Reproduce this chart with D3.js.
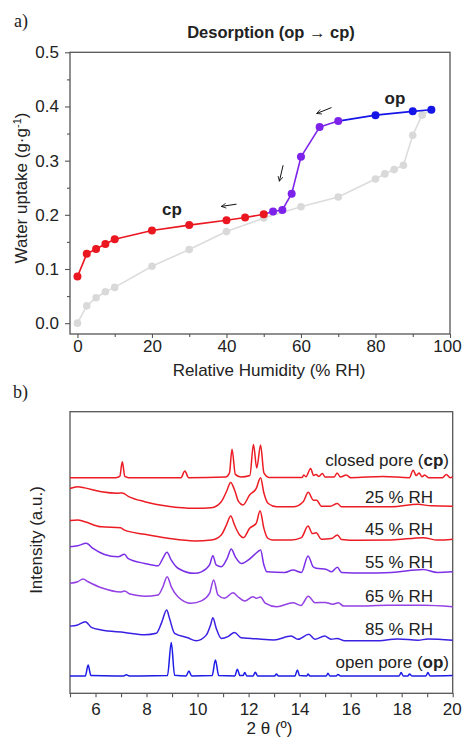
<!DOCTYPE html>
<html>
<head>
<meta charset="utf-8">
<script src="https://cdn.jsdelivr.net/npm/d3@7/dist/d3.min.js"></script>
<style>
  body { margin: 0; background: #fff; }
  svg text { font-family: "Liberation Sans", Arial, sans-serif; fill: #222; }
</style>
</head>
<body>
<div id="chart"></div>
<script>
// ---------- panel a) water sorption isotherm ----------
var adsorbRH = [0, 2.5, 5, 7.5, 10, 20, 30, 40, 50, 60, 70, 80, 82.5, 85, 87.5, 90, 92.5, 95];
var adsorbUptake = [0.0, 0.032, 0.047, 0.058, 0.066, 0.105, 0.136, 0.169, 0.194, 0.215, 0.233, 0.266, 0.2755, 0.2835, 0.2915, 0.347, 0.384, 0.394];

var desorbRH = [95, 90, 80, 70, 65, 60, 57.5, 55, 52.5, 50, 45, 40, 30, 20, 10, 7.5, 5, 2.5, 0];
var desorbUptake = [0.394, 0.391, 0.384, 0.373, 0.362, 0.307, 0.239, 0.209, 0.206, 0.201, 0.195, 0.190, 0.181, 0.171, 0.155, 0.146, 0.137, 0.128, 0.086];
var desorbPhase = ['op', 'op', 'op', 'mix', 'mix', 'mix', 'mix', 'mix', 'mix', 'cp', 'cp', 'cp', 'cp', 'cp', 'cp', 'cp', 'cp', 'cp', 'cp'];

var rhTicks = [0, 20, 40, 60, 80, 100];
var uptakeTicks = [0.0, 0.1, 0.2, 0.3, 0.4, 0.5];

// ---------- panel b) PXRD patterns, [2theta, stacked intensity] ----------
var xrdCP = [[5.0,71.9],[6.8,71.9],[6.95,72.3],[7.05,77.2],[7.15,72.3],[7.3,71.9],[9.35,71.9],[9.5,74.1],[9.65,71.9],
  [11.1,72.1],[11.25,73.5],[11.35,81.4],[11.48,73.0],[11.7,72.1],[12.05,72.6],[12.19,83.0],[12.32,75.1],[12.47,82.8],
  [12.6,73.5],[12.8,72.0],[14.1,72.0],[14.16,72.8],[14.25,72.2],[14.43,75.0],[14.55,72.6],[14.65,73.0],[14.75,72.3],
  [14.89,73.3],[15.0,72.1],[15.35,72.1],[15.47,73.5],[15.6,72.1],[15.83,72.8],[16.0,71.9],[17.27,72.3],[18.3,71.9],
  [18.45,74.4],[18.57,72.6],[18.68,73.5],[18.8,72.2],[18.9,72.8],[19.05,71.9],[19.6,71.9],[19.75,73.0],[19.9,71.9],[20.0,72.1]];
var xrd25 = [[5.0,68.3],[5.3,68.9],[5.58,68.5],[6.23,67.2],[6.88,66.7],[7.05,66.8],[7.3,65.6],[7.93,63.9],[8.84,62.4],
  [9.89,61.7],[10.54,61.9],[10.93,63.9],[11.13,67.2],[11.3,70.3],[11.45,67.8],[11.61,63.9],[11.78,62.8],[12.04,66.1],
  [12.3,68.3],[12.47,71.9],[12.6,66.8],[12.77,63.3],[13.1,62.2],[13.75,62.2],[14.14,63.9],[14.34,67.0],[14.54,64.4],
  [14.67,64.4],[14.85,62.4],[15.2,62.4],[15.48,63.3],[15.64,62.2],[16.29,62.2],[17.6,62.2],[18.64,63.0],[19.16,62.5],[20.0,62.4]];
var xrd45 = [[5.0,57.6],[5.3,57.8],[5.58,57.2],[6.23,55.5],[6.98,55.2],[7.14,54.4],[7.93,53.0],[8.84,51.7],[9.89,50.8],
  [10.54,51.1],[10.93,52.8],[11.13,56.1],[11.3,59.1],[11.45,56.1],[11.65,52.8],[11.8,51.9],[12.04,55.0],[12.3,56.7],
  [12.45,60.9],[12.6,55.0],[12.75,51.7],[12.95,51.1],[13.68,51.1],[14.07,51.9],[14.33,55.8],[14.5,53.3],[14.65,53.5],
  [14.85,51.4],[15.25,51.6],[15.48,52.8],[15.64,51.3],[16.29,51.0],[17.6,51.1],[18.84,51.9],[19.4,51.1],[20.0,51.4]];
var xrd55 = [[5.0,48.9],[5.3,49.2],[5.64,50.0],[5.9,48.3],[6.35,46.3],[6.88,45.5],[7.14,46.4],[7.27,45.0],[7.93,43.3],
  [8.45,42.5],[8.64,45.0],[8.8,47.0],[8.97,44.4],[9.23,41.7],[9.89,40.0],[10.15,40.5],[10.47,42.8],[10.6,45.9],
  [10.73,42.8],[10.93,42.2],[11.16,45.0],[11.32,48.1],[11.48,45.5],[11.72,43.3],[11.98,44.4],[12.24,46.3],[12.47,47.8],
  [12.6,42.8],[12.72,40.5],[13.42,40.3],[13.74,41.1],[14.07,40.3],[14.33,45.8],[14.53,42.2],[14.65,41.7],[15.05,41.3],
  [15.25,40.5],[15.48,42.0],[15.64,40.3],[16.55,40.1],[17.6,40.3],[18.84,41.3],[19.4,40.3],[20.0,40.5]];
var xrd65 = [[5.0,36.7],[5.3,37.2],[5.51,38.1],[5.71,37.2],[6.23,35.2],[7.0,33.8],[7.14,34.1],[7.35,33.1],[7.93,32.4],
  [8.45,32.8],[8.64,35.5],[8.81,38.9],[8.97,35.5],[9.23,32.2],[9.75,30.0],[10.15,30.8],[10.47,33.3],[10.63,37.8],
  [10.8,32.8],[11.06,31.7],[11.39,33.5],[11.58,32.2],[11.85,30.8],[12.17,32.2],[12.3,31.7],[12.47,32.1],[12.65,30.1],
  [13.1,28.9],[13.74,30.2],[14.05,29.3],[14.34,32.4],[14.6,30.2],[15.0,30.3],[15.3,29.7],[15.52,30.2],[15.72,29.1],
  [16.65,29.1],[17.43,29.4],[18.86,29.4],[20.0,28.9]];
var xrd85 = [[5.0,22.4],[5.3,22.8],[5.6,23.9],[5.84,22.0],[6.23,21.1],[7.14,20.3],[7.93,19.5],[8.38,20.0],[8.58,23.3],
  [8.79,27.8],[8.9,25.0],[9.1,20.0],[9.62,18.5],[9.95,17.5],[10.34,19.4],[10.51,22.8],[10.6,25.2],[10.73,21.7],
  [10.93,18.3],[11.19,18.9],[11.45,20.3],[11.71,18.5],[12.1,18.3],[12.5,18.0],[13.0,17.8],[13.67,19.1],[13.93,18.0],
  [14.36,19.7],[14.6,18.0],[14.98,19.1],[15.23,18.0],[15.47,18.3],[15.77,17.5],[16.95,17.5],[17.86,18.1],[18.64,17.7],
  [19.03,18.1],[20.0,17.7]];
var xrdOP = [[5.0,5.8],[5.6,5.8],[5.71,9.4],[5.82,5.9],[7.1,5.8],[7.21,6.2],[7.32,5.8],[8.82,5.9],[8.97,16.9],[9.1,6.0],
  [9.55,5.8],[9.66,7.4],[9.77,5.8],[10.57,5.9],[10.7,11.1],[10.83,5.9],[11.46,5.8],[11.56,8.0],[11.66,5.9],[11.78,5.9],
  [11.85,6.9],[11.93,5.8],[12.18,5.8],[12.26,7.0],[12.36,5.8],[13.02,5.8],[13.09,6.4],[13.17,5.8],[13.82,5.8],[13.91,7.8],
  [14.0,5.9],[14.28,5.8],[14.33,6.4],[14.4,5.8],[15.05,5.8],[15.11,6.7],[15.18,5.8],[15.44,5.8],[15.5,6.3],[15.6,5.8],
  [17.9,5.8],[17.98,6.9],[18.06,5.8],[18.24,5.8],[18.31,6.4],[18.4,5.8],[18.95,5.8],[19.03,6.9],[19.11,5.8],[20.0,5.9]];

var xrdSeries = [xrdCP, xrd25, xrd45, xrd55, xrd65, xrd85, xrdOP];
var xrdColors = ['#ec1c24', '#ec1c24', '#ec1c24', '#7b2fe6', '#9340e4', '#3a20e2', '#1c1ce6'];
var thetaTicks = [6, 8, 10, 12, 14, 16, 18, 20];

var phaseColor = { op: '#1515e8', mix: '#7d22ea', cp: '#ea1620' };

var width = 463, height = 738;

var svg = d3.select('#chart').append('svg')
  .attr('width', width)
  .attr('height', height);

svg.append('rect').attr('width', width).attr('height', height).attr('fill', '#fff');

///////////////////////////////////////////////////////////////////////////
//////////////////////////////// panel a ////////////////////////////////
///////////////////////////////////////////////////////////////////////////

var a = { left: 70, right: 450, top: 52.3, bottom: 334 };

var xA = d3.scaleLinear().domain([-2, 100]).range([a.left, a.right]);
var yA = d3.scaleLinear().domain([-0.02, 0.5]).range([a.bottom, a.top]);

// axes (major + minor ticks, outward)
svg.append('g')
  .attr('transform', 'translate(0,' + a.bottom + ')')
  .call(d3.axisBottom(xA).tickValues(d3.range(10, 100, 20)).tickSize(3).tickFormat(''))
  .call(function(g) { g.select('.domain').remove(); });
var xAxisA = svg.append('g')
  .attr('class', 'axis')
  .attr('transform', 'translate(0,' + a.bottom + ')')
  .call(d3.axisBottom(xA).tickValues(rhTicks).tickSize(4).tickPadding(2).tickFormat(d3.format('d')))
  .call(function(g) { g.select('.domain').remove(); });
// last label sits a little inside like in the original
xAxisA.selectAll('.tick text').filter(function(d) { return d === 100; }).attr('dx', -3);

svg.append('g')
  .attr('transform', 'translate(' + a.left + ',0)')
  .call(d3.axisLeft(yA).tickValues(d3.range(0.05, 0.5, 0.1)).tickSize(3).tickFormat(''))
  .call(function(g) { g.select('.domain').remove(); });
svg.append('g')
  .attr('class', 'axis')
  .attr('transform', 'translate(' + a.left + ',0)')
  .call(d3.axisLeft(yA).tickValues(uptakeTicks).tickSize(5).tickPadding(6).tickFormat(d3.format('.1f')))
  .call(function(g) { g.select('.domain').remove(); });

svg.append('rect')
  .attr('x', a.left).attr('y', a.top)
  .attr('width', a.right - a.left).attr('height', a.bottom - a.top)
  .attr('fill', 'none').attr('stroke', '#555').attr('stroke-width', 1.3);

// adsorption branch in grey
var adsorb = adsorbRH.map(function(d, i) { return { x: d, y: adsorbUptake[i] }; });
var line = d3.line().x(function(d) { return xA(d.x); }).y(function(d) { return yA(d.y); });

svg.append('path')
  .datum(adsorb)
  .attr('d', line)
  .attr('fill', 'none')
  .attr('stroke', '#dcdcdc')
  .attr('stroke-width', 1.6);
svg.append('g').selectAll('circle')
  .data(adsorb)
  .enter().append('circle')
  .attr('cx', function(d) { return xA(d.x); })
  .attr('cy', function(d) { return yA(d.y); })
  .attr('r', 3.8)
  .attr('fill', '#d9d9d9');

// desorption branch, segment colour follows the higher-RH point
var desorb = desorbRH.map(function(d, i) { return { x: d, y: desorbUptake[i], p: desorbPhase[i] }; });
var segs = d3.pairs(desorb);
svg.append('g').selectAll('line')
  .data(segs)
  .enter().append('line')
  .attr('x1', function(d) { return xA(d[0].x); })
  .attr('y1', function(d) { return yA(d[0].y); })
  .attr('x2', function(d) { return xA(d[1].x); })
  .attr('y2', function(d) { return yA(d[1].y); })
  .attr('stroke', function(d) { return phaseColor[d[0].p]; })
  .attr('stroke-width', 1.6);
svg.append('g').selectAll('circle')
  .data(desorb)
  .enter().append('circle')
  .attr('cx', function(d) { return xA(d.x); })
  .attr('cy', function(d) { return yA(d.y); })
  .attr('r', 4)
  .attr('fill', function(d) { return phaseColor[d.p]; });

// small black arrows
var arrows = [
  [[68.2, 0.398], [64.2, 0.387]],
  [[55.2, 0.2915], [54.2, 0.262]],
  [[42.7, 0.2197], [38.6, 0.2155]]
];
svg.append('defs').append('marker')
  .attr('id', 'head')
  .attr('viewBox', '0 0 10 10')
  .attr('refX', 9).attr('refY', 5)
  .attr('markerWidth', 6).attr('markerHeight', 6)
  .attr('orient', 'auto')
  .append('path')
  .attr('d', 'M1,1 L9,5 L1,9')
  .attr('fill', 'none')
  .attr('stroke', '#111')
  .attr('stroke-width', 1.3);
svg.append('g').selectAll('line')
  .data(arrows)
  .enter().append('line')
  .attr('x1', function(d) { return xA(d[0][0]); })
  .attr('y1', function(d) { return yA(d[0][1]); })
  .attr('x2', function(d) { return xA(d[1][0]); })
  .attr('y2', function(d) { return yA(d[1][1]); })
  .attr('stroke', '#111')
  .attr('stroke-width', 1)
  .attr('marker-end', 'url(#head)');

svg.append('text').attr('x', 395).attr('y', 104).attr('text-anchor', 'middle')
  .style('font-size', '17px').style('font-weight', 'bold').text('op');
svg.append('text').attr('x', 172).attr('y', 215).attr('text-anchor', 'middle')
  .style('font-size', '17px').style('font-weight', 'bold').text('cp');

svg.append('text').attr('x', 271).attr('y', 38).attr('text-anchor', 'middle')
  .style('font-size', '16.5px').style('font-weight', 'bold').text('Desorption (op \u2192 cp)');

svg.append('text').attr('x', 269).attr('y', 375.5).attr('text-anchor', 'middle')
  .style('font-size', '17px').text('Relative Humidity (% RH)');

var ylabA = svg.append('text')
  .attr('transform', 'translate(27,188) rotate(-90)')
  .attr('text-anchor', 'middle')
  .style('font-size', '17px');
ylabA.append('tspan').text('Water uptake (g\u00b7g');
ylabA.append('tspan').attr('baseline-shift', 'super').style('font-size', '11px').text('-1');
ylabA.append('tspan').text(')');

svg.append('text').attr('x', 14).attr('y', 27)
  .style('font-family', '"Liberation Serif", "Times New Roman", serif').style('font-size', '18px').text('a)');

///////////////////////////////////////////////////////////////////////////
//////////////////////////////// panel b ////////////////////////////////
///////////////////////////////////////////////////////////////////////////

var b = { left: 70, right: 452.7, top: 411.7, bottom: 693.3 };

var xB = d3.scaleLinear().domain([5, 20]).range([b.left, b.right]);
var yB = d3.scaleLinear().domain([0, 93.9]).range([b.bottom, b.top]);

svg.append('g')
  .attr('transform', 'translate(0,' + b.bottom + ')')
  .call(d3.axisBottom(xB).tickValues(d3.range(5, 20, 2)).tickSize(4).tickFormat(''))
  .call(function(g) { g.select('.domain').remove(); });
var xAxisB = svg.append('g')
  .attr('class', 'axis')
  .attr('transform', 'translate(0,' + b.bottom + ')')
  .call(d3.axisBottom(xB).tickValues(thetaTicks).tickSize(4).tickPadding(5.5).tickFormat(d3.format('d')))
  .call(function(g) { g.select('.domain').remove(); });
xAxisB.selectAll('.tick text').filter(function(d) { return d === 20; }).attr('dx', -1);

svg.append('rect')
  .attr('x', b.left).attr('y', b.top)
  .attr('width', b.right - b.left).attr('height', b.bottom - b.top)
  .attr('fill', 'none').attr('stroke', '#555').attr('stroke-width', 1.3);

var xrdLine = d3.line()
  .x(function(d) { return xB(d[0]); })
  .y(function(d) { return yB(d[1]); })
  .curve(d3.curveMonotoneX);

svg.append('g').selectAll('path')
  .data(xrdSeries)
  .enter().append('path')
  .attr('d', xrdLine)
  .attr('fill', 'none')
  .attr('stroke', function(d, i) { return xrdColors[i]; })
  .attr('stroke-width', 1.5);

// pattern labels
function poreLabel(y, plain, bold) {
  var t = svg.append('text').attr('x', 449).attr('y', y).attr('text-anchor', 'end').style('font-size', '17px');
  t.append('tspan').text(plain + ' (');
  t.append('tspan').style('font-weight', 'bold').text(bold);
  t.append('tspan').text(')');
}
poreLabel(466, 'closed pore', 'cp');
poreLabel(667.5, 'open pore', 'op');

var rhLabels = ['25 % RH', '45 % RH', '55 % RH', '65 % RH', '85 % RH'];
var rhLabelY = [502.5, 535, 568.3, 601.7, 635];
svg.append('g').selectAll('text')
  .data(rhLabels)
  .enter().append('text')
  .attr('x', 433)
  .attr('y', function(d, i) { return rhLabelY[i]; })
  .attr('text-anchor', 'end')
  .style('font-size', '17px')
  .text(function(d) { return d; });

svg.append('text').attr('x', 269.5).attr('y', 734).attr('text-anchor', 'middle')
  .style('font-size', '17px').text('2 \u03b8 (\u00ba)');

svg.append('text')
  .attr('transform', 'translate(41.5,540) rotate(-90)')
  .attr('text-anchor', 'middle')
  .style('font-size', '17px')
  .text('Intensity (a.u.)');

svg.append('text').attr('x', 13).attr('y', 398)
  .style('font-family', '"Liberation Serif", "Times New Roman", serif').style('font-size', '18px').text('b)');

// tick styling
svg.selectAll('.tick line').attr('stroke', '#555').attr('stroke-width', 1.1);
svg.selectAll('.axis .tick text').style('font-size', '17px').attr('fill', '#222');
</script>
</body>
</html>
